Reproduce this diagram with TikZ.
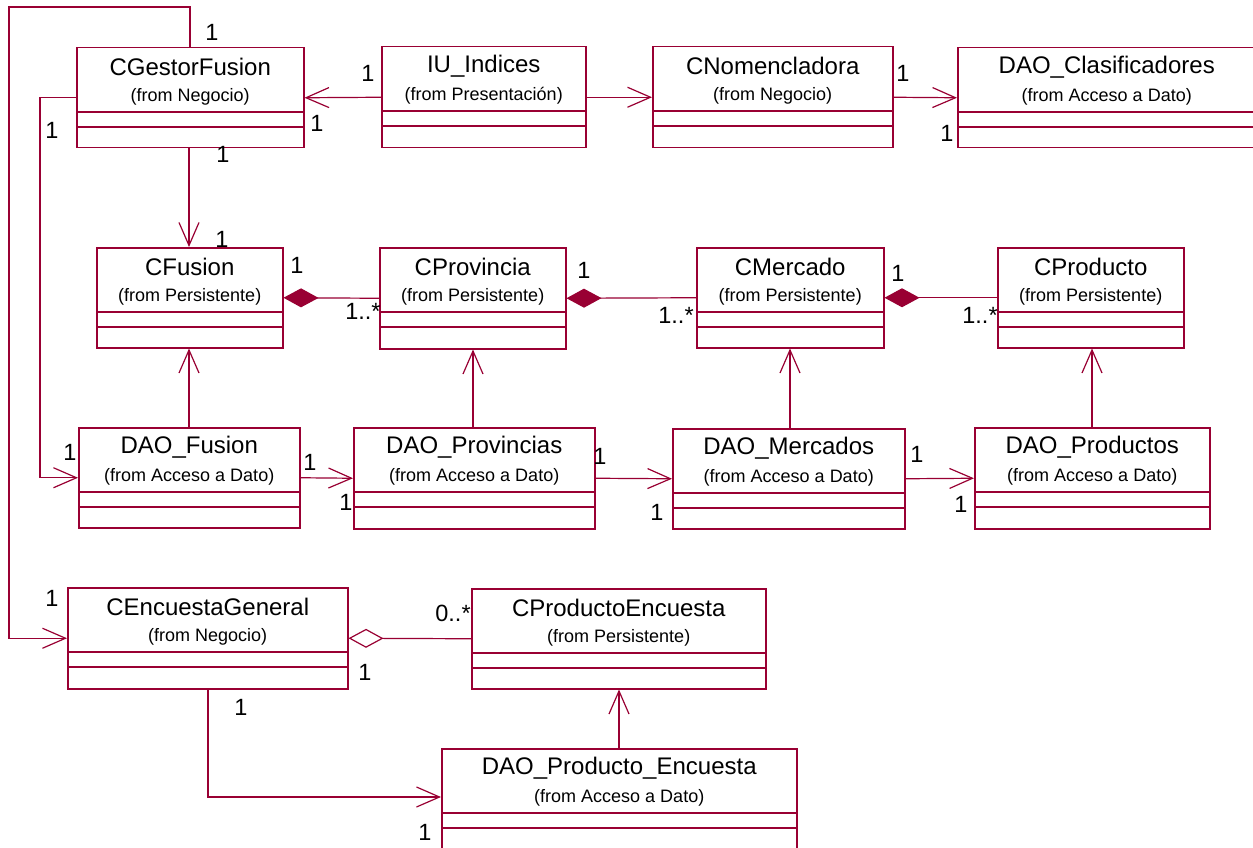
\documentclass[tikz,border=0pt]{standalone}
\usepackage{fontspec}
\setmainfont{Liberation Sans}
\usetikzlibrary{arrows.meta,calc}
\definecolor{rose}{HTML}{990033}

\tikzset{
  clsbox/.style={draw=rose, line width=1.5pt, fill=white, inner sep=0pt},
  clsline/.style={draw=rose, line width=1.3pt},
  clstitle/.style={font=\fontsize{24}{28}\selectfont, inner sep=0pt},
  clsfrom/.style={font=\fontsize{18}{22}\selectfont, inner sep=0pt},
  mult/.style={font=\fontsize{23.5}{27}\selectfont, inner sep=0pt},
  assoc/.style={draw=rose, line width=1.2pt},
  nav/.style={assoc, -{Straight Barb[length=23pt,width=20pt]}},
  comp/.style={assoc, {Diamond[length=35pt,width=19pt]}-},
  aggr/.style={assoc, {Diamond[open,length=35pt,width=19pt,fill=white]}-},
}

% UML class box: name, left, top, width, height, class name, package
\newcommand\umlclass[7]{%
  \node[clsbox, anchor=north west, minimum width=#4pt, minimum height=#5pt] (#1) at (#2,#3) {};
  \node[clstitle] (#1-name) at ($(#1.north)+(0,20)$) {#6};
  \node[clsfrom] (#1-pkg) at ($(#1.north)+(0,50)$) {(from #7)};
  \draw[clsline] ([yshift=-65pt]#1.north west) -- ([yshift=-65pt]#1.north east);
  \draw[clsline] ([yshift=-80pt]#1.north west) -- ([yshift=-80pt]#1.north east);
}

\begin{document}
\begin{tikzpicture}[x=1pt, y=-1pt]
  \fill[white] (0,0) rectangle (1253,848);
  \useasboundingbox (0,0) rectangle (1253,848);

  % classes, top row
  \umlclass{cg}{76}{47}{227}{100}{CGestorFusion}{Negocio}
  \umlclass{iu}{381}{46}{204}{101}{IU\_Indices}{Presentación}
  \umlclass{cn}{652}{46}{240}{101}{CNomencladora}{Negocio}
  \umlclass{dc}{957}{47}{298}{100}{DAO\_Clasificadores}{Acceso a Dato}

  % persistent classes
  \umlclass{cf}{96}{247}{186}{100}{CFusion}{Persistente}
  \umlclass{cp}{379}{247}{186}{101}{CProvincia}{Persistente}
  \umlclass{cm}{696}{247}{187}{100}{CMercado}{Persistente}
  \umlclass{cpr}{997}{247}{186}{100}{CProducto}{Persistente}

  % data access objects
  \umlclass{df}{78}{427}{221}{100}{DAO\_Fusion}{Acceso a Dato}
  \umlclass{dp}{353}{427}{241}{101}{DAO\_Provincias}{Acceso a Dato}
  \umlclass{dm}{672}{428}{232}{100}{DAO\_Mercados}{Acceso a Dato}
  \umlclass{dpr}{974}{427}{235}{101}{DAO\_Productos}{Acceso a Dato}

  % survey classes
  \umlclass{ceg}{67}{587}{280}{101}{CEncuestaGeneral}{Negocio}
  \umlclass{cpe}{471}{588}{294}{100}{CProductoEncuesta}{Persistente}
  \umlclass{dpe}{441}{748}{355}{122}{DAO\_Producto\_Encuesta}{Acceso a Dato}

  % associations
  \coordinate (loopTL) at (9,7);
  \draw[nav] ([xshift=114pt]cg.north west) |- (loopTL) |- (ceg.west);
  \draw[nav] (cg.west) -- ++(-36,0) |- (df.west);
  \draw[nav] (iu.west) -- (cg.east);
  \draw[nav] (iu.east) -- (cn.west);
  \draw[nav] (cn.east) -- (dc.west);
  \draw[nav] ([xshift=113pt]cg.south west) -- ([xshift=93pt]cf.north west);

  \draw[comp] (cf.east) -- (cp.west);
  \draw[comp] (cp.east) -- (cm.west);
  \draw[comp] (cm.east) -- (cpr.west);

  \draw[nav] ([xshift=111pt]df.north west) -- ([xshift=93pt]cf.south west);
  \draw[nav] ([xshift=120pt]dp.north west) -- ([xshift=94pt]cp.south west);
  \draw[nav] ([xshift=118pt]dm.north west) -- ([xshift=94pt]cm.south west);
  \draw[nav] ([xshift=118pt]dpr.north west) -- ([xshift=95pt]cpr.south west);

  \draw[nav] (df.east) -- (dp.west);
  \draw[nav] (dp.east) -- (dm.west);
  \draw[nav] (dm.east) -- (dpr.west);

  \draw[aggr] (ceg.east) -- (cpe.west);
  \draw[nav] ([xshift=141pt]ceg.south west) |- ([yshift=-49pt]dpe.north west);
  \draw[nav] ([xshift=178pt]dpe.north west) -- ([xshift=148pt]cpe.south west);

  % multiplicities
  \node[mult] (m01) at (212,32) {1};
  \node[mult] (m02) at (368,73) {1};
  \node[mult] (m03) at (317,123) {1};
  \node[mult] (m04) at (52,130) {1};
  \node[mult] (m05) at (223,154) {1};
  \node[mult] (m06) at (903,73) {1};
  \node[mult] (m07) at (947,133) {1};
  \node[mult] (m08) at (222,239) {1};
  \node[mult] (m09) at (297,265) {1};
  \node[mult] (m10) at (363,311) {1..*};
  \node[mult] (m11) at (584,270) {1};
  \node[mult] (m12) at (676,315) {1..*};
  \node[mult] (m13) at (898,273) {1};
  \node[mult] (m14) at (980,315) {1..*};
  \node[mult] (m15) at (70,452) {1};
  \node[mult] (m16) at (310,462) {1};
  \node[mult] (m17) at (346,502) {1};
  \node[mult] (m18) at (600,456) {1};
  \node[mult] (m19) at (657,512) {1};
  \node[mult] (m20) at (917,454) {1};
  \node[mult] (m21) at (961,504) {1};
  \node[mult] (m22) at (52,598) {1};
  \node[mult] (m23) at (453,613) {0..*};
  \node[mult] (m24) at (365,672) {1};
  \node[mult] (m25) at (241,707) {1};
  \node[mult] (m26) at (425,832) {1};
\end{tikzpicture}
\end{document}
